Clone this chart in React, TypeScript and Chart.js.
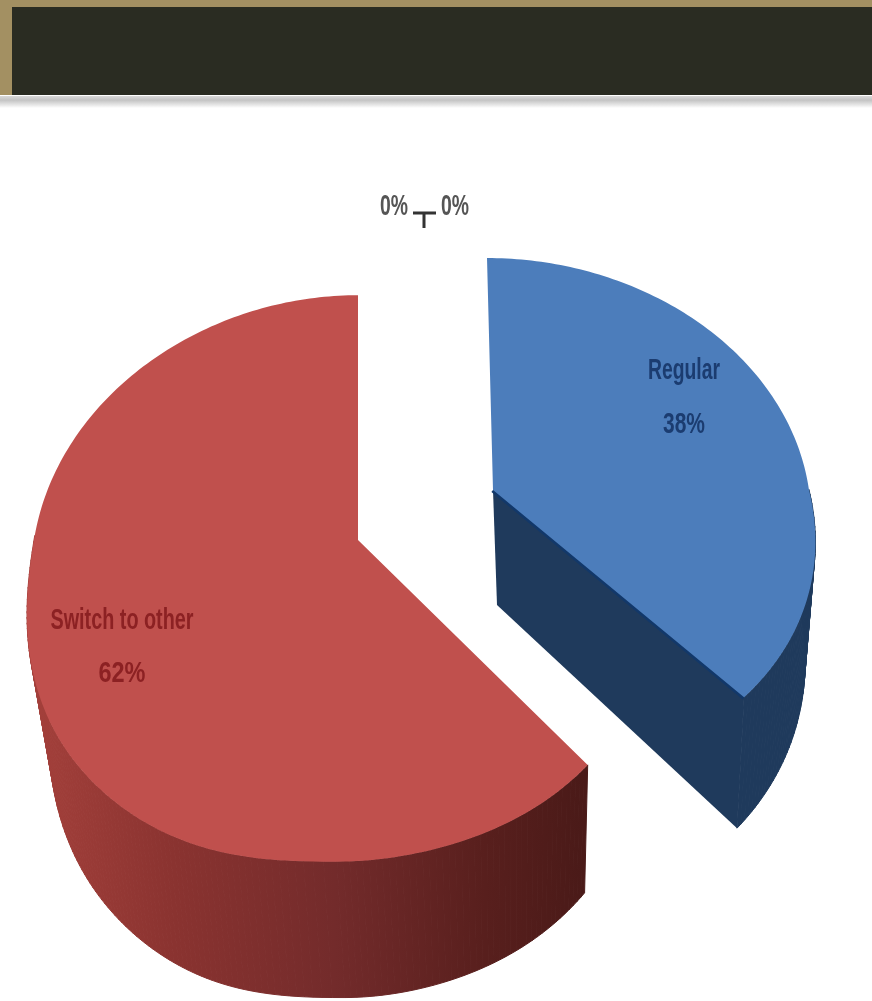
import React, { useEffect, useRef } from "react";
import { Chart, registerables } from "chart.js";

Chart.register(...registerables);

// Share of respondents per answer; the two unnamed answers have no responses.
const categories = ["Regular", "Switch to other", "", ""];
const shares = [38, 62, 0, 0];
const faceColors = ["#4c7dbb", "#c0504d", "#9bbb59", "#8064a2"];
const sideColors = ["#1f3a5c", "#7a2c2a", "#5d7030", "#4a3a60"];

// Where each slice's caption sits, and how wide its lines may run.
const captionStyles = [
  { x: 684, lines: [379, 433], widths: [72, 42], color: "#1b3c70" },
  { x: 122, lines: [629, 682], widths: [143, 47], color: "#8c2123" },
  { x: 394, lines: [215], widths: [28], color: "#555555" },
  { x: 455, lines: [215], widths: [28], color: "#555555" },
];

// Projective view of each exploded wedge, at the nominal radius of 436.
const views = [
  {
    apex: [493, 490], floor: [497, 605], floorScale: [0.956, 1.077],
    depth: 259.6, persp: -0.119, bulge: 1,
    spread: (u: number, v: number) => 316 + (v > 0 ? 26 * v : 0),
    drift: (t: number, v: number) => (v < 0 ? -6 * v * v : 0),
  },
  {
    apex: [358, 540], floor: [365, 649.5], floorScale: [0.956, 1.082],
    depth: 278, persp: -0.1358, bulge: 0.8,
    spread: (u: number) => 312 - 12 * u,
    drift: (t: number) => -22 * Math.exp(-Math.pow((t - Math.PI) / 0.436, 2)),
  },
];

type View = (typeof views)[number];

function project(view: View, t: number) {
  let u = Math.sin(t);
  let v = -Math.cos(t);
  if (view.bulge !== 1 && u < 0 && v > 0) {
    u = -Math.pow(-u, view.bulge);
    v = Math.pow(v, view.bulge);
  }
  const den = 1 + view.persp * v;
  return {
    x: (view.spread(u, v) * u) / den + view.drift(t, v),
    y: (view.depth * v) / den,
    v,
  };
}

const wedgePlugin = {
  id: "explodedWedges",
  beforeDatasetsDraw(chart: any) {
    const { ctx } = chart;
    const arcs = chart.getDatasetMeta(0).data;
    arcs.slice(0, views.length).forEach((arc: any, i: number) => {
      const view = views[i];
      const k = arc.outerRadius / 436;
      const start = arc.startAngle + Math.PI / 2;
      const end = arc.endAngle + Math.PI / 2;
      const steps = Math.max(2, Math.round(((end - start) * 180) / Math.PI));
      const rim = [];
      for (let s = 0; s <= steps; s++) {
        rim.push(project(view, start + ((end - start) * s) / steps));
      }
      const top = (p: { x: number; y: number }) => [
        (view.apex[0] + p.x) * k, (view.apex[1] + p.y) * k,
      ];
      const low = (p: { x: number; y: number }) => [
        (view.floor[0] + p.x * view.floorScale[0]) * k,
        (view.floor[1] + p.y * view.floorScale[1]) * k,
      ];

      let side: any = sideColors[i];
      if (i === 1) {
        side = ctx.createLinearGradient(30 * k, 0, 585 * k, 0);
        side.addColorStop(0, "#a4403b");
        side.addColorStop(0.26, "#8a3330");
        side.addColorStop(0.55, "#732b2b");
        side.addColorStop(0.82, "#581f1d");
        side.addColorStop(1, "#4a1a18");
      }
      ctx.save();
      ctx.fillStyle = side;
      ctx.strokeStyle = side;
      ctx.lineWidth = 1;
      ctx.lineJoin = "round";

      // Outer wall, only where it faces the viewer.
      for (let s = 0; s < rim.length - 1; s++) {
        if (rim[s].v < 0 && rim[s + 1].v < 0) continue;
        const a = top(rim[s]);
        const b = top(rim[s + 1]);
        const c = low(rim[s + 1]);
        const d = low(rim[s]);
        ctx.beginPath();
        ctx.moveTo(a[0], a[1]);
        ctx.lineTo(b[0], b[1]);
        ctx.lineTo(c[0], c[1]);
        ctx.lineTo(d[0], d[1]);
        ctx.closePath();
        ctx.fill();
        ctx.stroke();
      }

      // Cut wall of the wedge that turns its closing edge toward the viewer.
      if (i === 0) {
        const origin = { x: 0, y: 0 };
        const last = rim[rim.length - 1];
        const pts = [top(origin), top(last), low(last), low(origin)];
        ctx.beginPath();
        pts.forEach((p, n) => (n ? ctx.lineTo(p[0], p[1]) : ctx.moveTo(p[0], p[1])));
        ctx.closePath();
        ctx.fill();

        // The darker crease just under the face's cut edge.
        const crease = [top(origin), top(last)];
        ctx.strokeStyle = "#12386a";
        ctx.lineWidth = 5;
        ctx.beginPath();
        ctx.moveTo(crease[0][0], crease[0][1]);
        ctx.lineTo(crease[1][0], crease[1][1]);
        ctx.stroke();
      }

      // Top face.
      ctx.fillStyle = faceColors[i];
      ctx.beginPath();
      ctx.moveTo(view.apex[0] * k, view.apex[1] * k);
      rim.forEach((p) => {
        const q = top(p);
        ctx.lineTo(q[0], q[1]);
      });
      ctx.closePath();
      ctx.fill();
      ctx.restore();
    });

    // Captions and the leader mark of the empty slices.
    ctx.save();
    ctx.textAlign = "center";
    ctx.textBaseline = "alphabetic";
    ctx.font = 'bold 30px "Liberation Sans"';
    categories.forEach((name, i) => {
      const style = captionStyles[i];
      const text = name ? [name, `${shares[i]}%`] : [`${shares[i]}%`];
      ctx.fillStyle = style.color;
      text.forEach((line, n) => {
        ctx.fillText(line, style.x, style.lines[n], style.widths[n]);
      });
    });
    ctx.strokeStyle = "#333333";
    ctx.lineWidth = 3;
    ctx.beginPath();
    ctx.moveTo(413, 213);
    ctx.lineTo(436, 213);
    ctx.moveTo(424, 213);
    ctx.lineTo(424, 228);
    ctx.stroke();
    ctx.restore();
    return false;
  },
};

export default function App() {
  const canvasRef = useRef<HTMLCanvasElement>(null);

  useEffect(() => {
    const chart = new Chart(canvasRef.current as HTMLCanvasElement, {
      type: "pie",
      data: {
        labels: categories,
        datasets: [{ data: shares, backgroundColor: faceColors, borderWidth: 0 }],
      },
      options: {
        responsive: false,
        animation: false,
        events: [],
        layout: { padding: 0 },
        plugins: { legend: { display: false }, tooltip: { enabled: false } },
      },
      plugins: [wedgePlugin],
    } as any);
    return () => chart.destroy();
  }, []);

  return (
    <div style={{ position: "absolute", left: 0, top: 0, width: 872, height: 1001, overflow: "hidden", background: "#ffffff" }}>
      <canvas ref={canvasRef} width={872} height={1001} style={{ position: "absolute", left: 0, top: 0, display: "block" }} />
      <div style={{ position: "absolute", left: 0, top: 0, width: 872, height: 95, background: "#a39062" }}>
        <div style={{ position: "absolute", left: 12, top: 7, right: 0, bottom: 0, background: "#2a2c22" }} />
      </div>
      <div style={{ position: "absolute", left: 0, top: 96, width: 872, height: 12, background: "linear-gradient(#d9d9d9, #c4c4c4 35%, #ececec 80%, #ffffff)" }} />
    </div>
  );
}
